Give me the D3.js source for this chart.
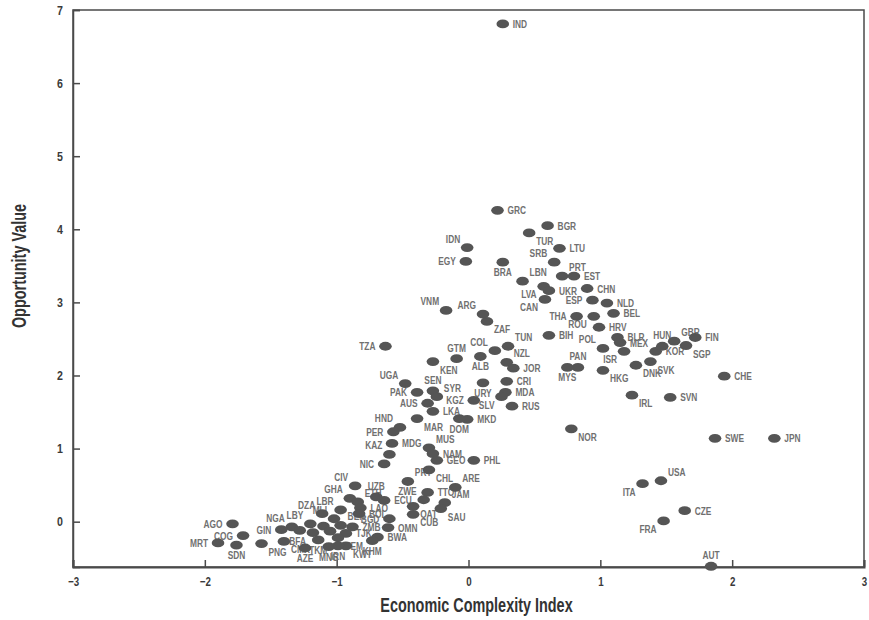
<!DOCTYPE html>
<html>
<head>
<meta charset="utf-8">
<script src="https://cdn.jsdelivr.net/npm/d3@7"></script>
<style>
  html, body { margin: 0; padding: 0; background: #fff; }
  svg { display: block; }
</style>
</head>
<body>
<svg id="chart" width="869" height="620"></svg>
<script>
// Country codes with Economic Complexity Index (x) and Opportunity Value (y)
const countries = [
  "IND","GRC","BGR","TUR","LTU","SRB","IDN","EGY","BRA","PRT","EST","LBN","LVA","UKR","CHN","CAN",
  "ESP","NLD","BEL","THA","ROU","HRV","BIH","POL","BLR","MEX","ISR","PAN","MYS","HKG","DNK","SVK",
  "KOR","HUN","GBR","FIN","SGP","CHE","SVN","IRL","NOR","SWE","JPN","USA","ITA","CZE","FRA","AUT",
  "ARG","ZAF","VNM","COL","TUN","GTM","KEN","ALB","NZL","JOR","CRI","URY","MDA","SLV","RUS","KGZ",
  "MKD","DOM","LKA","SEN","SYR","AUS","PAK","UGA","TZA","MAR","HND","PER","MDG","KAZ","NIC","MUS",
  "NAM","GEO","PHL","CHL","PRY","ARE","TTO","ZWE","JAM","SAU","QAT","CUB","ECU","UZB","CIV","GHA",
  "ETH","LAO","BOL","BGD","OMN","BWA","KHM","ZMB","TJK","BEN","KWT","YEM","IRN","MNG","TKM","AZE",
  "CMR","BFA","MLI","DZA","LBR","LBY","NGA","GIN","PNG","AGO","COG","MRT","SDN","MOZ","MWI","TGO"
];
const eci = [
  0.26, 0.22, 0.60, 0.46, 0.69, 0.65, -0.01, -0.02, 0.26, 0.71, 0.80, 0.41, 0.57, 0.61, 0.90, 0.58,
  0.94, 1.05, 1.10, 0.82, 0.95, 0.99, 0.61, 1.02, 1.13, 1.15, 1.18, 0.83, 0.75, 1.02, 1.27, 1.38,
  1.42, 1.47, 1.56, 1.72, 1.65, 1.94, 1.53, 1.24, 0.78, 1.87, 2.32, 1.46, 1.32, 1.64, 1.48, 1.84,
  0.11, 0.14, -0.17, 0.20, 0.30, -0.09, -0.27, 0.09, 0.29, 0.34, 0.29, 0.11, 0.28, 0.25, 0.33, 0.04,
  -0.01, -0.07, -0.27, -0.27, -0.24, -0.31, -0.39, -0.48, -0.63, -0.39, -0.52, -0.57, -0.58, -0.60, -0.64, -0.30,
  -0.27, -0.24, 0.04, -0.30, -0.46, -0.10, -0.31, -0.34, -0.18, -0.21, -0.42, -0.42, -0.64, -0.70, -0.86, -0.90,
  -0.84, -0.82, -0.83, -0.60, -0.61, -0.69, -0.73, -0.88, -0.93, -0.97, -0.93, -0.99, -0.99, -1.06, -1.14, -1.24,
  -1.40, -1.18, -1.02, -1.11, -0.97, -1.20, -1.34, -1.42, -1.57, -1.79, -1.71, -1.90, -1.76, -1.10, -1.28, -1.05
];
const opportunity = [
  6.81, 4.26, 4.05, 3.95, 3.74, 3.55, 3.75, 3.56, 3.55, 3.36, 3.36, 3.29, 3.22, 3.16, 3.19, 3.04,
  3.03, 2.99, 2.85, 2.81, 2.81, 2.66, 2.55, 2.37, 2.52, 2.45, 2.33, 2.11, 2.11, 2.07, 2.14, 2.19,
  2.33, 2.40, 2.47, 2.52, 2.41, 1.99, 1.70, 1.73, 1.27, 1.14, 1.14, 0.56, 0.52, 0.15, 0.01, -0.61,
  2.84, 2.74, 2.89, 2.34, 2.40, 2.23, 2.19, 2.26, 2.18, 2.10, 1.92, 1.90, 1.77, 1.71, 1.58, 1.66,
  1.40, 1.41, 1.51, 1.79, 1.71, 1.62, 1.77, 1.89, 2.40, 1.41, 1.29, 1.23, 1.07, 0.92, 0.79, 1.01,
  0.93, 0.84, 0.84, 0.71, 0.55, 0.47, 0.40, 0.30, 0.26, 0.18, 0.21, 0.10, 0.29, 0.34, 0.49, 0.32,
  0.27, 0.19, 0.11, 0.04, -0.08, -0.21, -0.26, -0.07, -0.16, -0.05, -0.33, -0.22, -0.33, -0.34, -0.25, -0.36,
  -0.27, -0.15, 0.04, 0.11, 0.16, -0.03, -0.07, -0.11, -0.30, -0.03, -0.19, -0.29, -0.32, -0.06, -0.12, -0.13
];
const xTicks = [-3, -2, -1, 0, 1, 2, 3];
const yTicks = [0, 1, 2, 3, 4, 5, 6, 7];

// Where each code label sits around its marker (r, l, t, b, tr, tl, br, bl, n = none)
const labelSide = {
  IND:"r", GRC:"r", BGR:"r", TUR:"br", LTU:"r", SRB:"tl", IDN:"tl", EGY:"l", BRA:"b", PRT:"tr", EST:"r",
  LBN:"tr", LVA:"bl", UKR:"r", CHN:"r", CAN:"bl", ESP:"l", NLD:"r", BEL:"r", THA:"l", ROU:"bl", HRV:"r",
  BIH:"r", POL:"tl", BLR:"r", MEX:"r", ISR:"bl", PAN:"t", MYS:"b", HKG:"br", DNK:"br", SVK:"br", KOR:"r",
  HUN:"t", GBR:"tr", FIN:"r", SGP:"br", CHE:"r", SVN:"r", IRL:"br", NOR:"br", SWE:"r", JPN:"r", USA:"tr",
  ITA:"bl", CZE:"r", FRA:"bl", AUT:"t", ARG:"tl", ZAF:"br", VNM:"tl", COL:"tl", TUN:"tr", GTM:"t", KEN:"br",
  ALB:"b", NZL:"tr", JOR:"r", CRI:"r", URY:"b", MDA:"r", SLV:"bl", RUS:"r", KGZ:"l", MKD:"r", DOM:"b",
  LKA:"r", SEN:"t", SYR:"tr", AUS:"l", PAK:"l", UGA:"tl", TZA:"l", MAR:"br", HND:"tl", PER:"l", MDG:"r",
  KAZ:"tl", NIC:"l", MUS:"tr", NAM:"r", GEO:"r", PHL:"r", CHL:"br", PRY:"tr", ARE:"tr", TTO:"r", ZWE:"tl",
  JAM:"tr", SAU:"br", QAT:"br", CUB:"br", ECU:"r", UZB:"t", CIV:"tl", GHA:"tl", ETH:"tr", LAO:"r", BOL:"r",
  BGD:"l", OMN:"r", BWA:"r", KHM:"b", ZMB:"r", TJK:"r", BEN:"tr", KWT:"br", YEM:"br", IRN:"b", MNG:"b",
  TKM:"b", AZE:"b", CMR:"br", BFA:"bl", MLI:"tl", DZA:"tl", LBR:"tl", LBY:"tl", NGA:"tl", GIN:"l", PNG:"br",
  AGO:"l", COG:"l", MRT:"l", SDN:"b", MOZ:"n", MWI:"n", TGO:"n"
};

const points = countries.map((c, i) => ({ code: c, x: eci[i], y: opportunity[i] }));

const svg = d3.select("#chart");
const plot = { left: 73, right: 864, top: 10, bottom: 567 };

const x = d3.scaleLinear().domain([-3, 3]).range([plot.left, plot.right]);
const y = d3.scaleLinear().domain([-0.62, 7]).range([plot.bottom, plot.top]);

const FONT = "'Liberation Sans', Arial, sans-serif";
const axisColor = "#4a4a4a";

// Frame
svg.append("rect")
  .attr("x", plot.left).attr("y", plot.top)
  .attr("width", plot.right - plot.left).attr("height", plot.bottom - plot.top)
  .attr("fill", "none").attr("stroke", axisColor).attr("stroke-width", 1.5);

// Bottom axis, ticks pointing inward
const gx = svg.append("g")
  .attr("transform", `translate(0,${plot.bottom})`)
  .call(d3.axisBottom(x).tickValues(xTicks).tickSize(-7).tickPadding(10).tickFormat(d3.format("d")));
gx.select(".domain").attr("stroke", axisColor).attr("stroke-width", 2);
gx.selectAll(".tick line").attr("stroke", axisColor).attr("stroke-width", 1.5);
gx.selectAll(".tick text")
  .attr("font-family", FONT).attr("font-weight", "bold").attr("font-size", 12.5)
  .attr("fill", "#3a3a3a").attr("transform", "scale(0.78,1)");

// Left axis, ticks pointing inward
const gy = svg.append("g")
  .attr("transform", `translate(${plot.left},0)`)
  .call(d3.axisLeft(y).tickValues(yTicks).tickSize(-7).tickPadding(12).tickFormat(d3.format("d")));
gy.select(".domain").attr("stroke", axisColor).attr("stroke-width", 1.5);
gy.selectAll(".tick line").attr("stroke", axisColor).attr("stroke-width", 1.5);
gy.selectAll(".tick text")
  .attr("font-family", FONT).attr("font-weight", "bold").attr("font-size", 12.5)
  .attr("fill", "#3a3a3a").attr("transform", "scale(0.85,1)");

// Axis titles, horizontally condensed
svg.append("text")
  .attr("transform", `translate(${(plot.left + plot.right) / 2 + 8},612) scale(0.74,1)`)
  .attr("text-anchor", "middle")
  .attr("font-family", FONT).attr("font-size", 19.5).attr("font-weight", "bold")
  .attr("fill", "#333")
  .text("Economic Complexity Index");

svg.append("text")
  .attr("transform", `translate(26,266) rotate(-90) scale(0.74,1)`)
  .attr("text-anchor", "middle")
  .attr("font-family", FONT).attr("font-size", 19.5).attr("font-weight", "bold")
  .attr("fill", "#333")
  .text("Opportunity Value");

// Label offsets around each marker
const offsets = {
  r:  { dx: 10, dy: 4,  anchor: "start" },
  l:  { dx: -10, dy: 4, anchor: "end" },
  t:  { dx: 0, dy: -7,  anchor: "middle" },
  b:  { dx: 0, dy: 14,  anchor: "middle" },
  tr: { dx: 7, dy: -5,  anchor: "start" },
  tl: { dx: -7, dy: -5, anchor: "end" },
  br: { dx: 7, dy: 12,  anchor: "start" },
  bl: { dx: -7, dy: 12, anchor: "end" }
};

// Code labels
svg.append("g")
  .selectAll("text")
  .data(points.filter(d => labelSide[d.code] !== "n"))
  .join("text")
  .attr("transform", d => {
    const o = offsets[labelSide[d.code]];
    return `translate(${x(d.x) + o.dx},${y(d.y) + o.dy}) scale(0.76,1)`;
  })
  .attr("text-anchor", d => offsets[labelSide[d.code]].anchor)
  .attr("font-family", FONT).attr("font-size", 11).attr("font-weight", "bold")
  .attr("fill", "#707070")
  .text(d => d.code);

// Markers
svg.append("g")
  .selectAll("ellipse")
  .data(points)
  .join("ellipse")
  .attr("cx", d => x(d.x))
  .attr("cy", d => y(d.y))
  .attr("rx", 6.3)
  .attr("ry", 4.4)
  .attr("fill", "#555");
</script>
</body>
</html>
